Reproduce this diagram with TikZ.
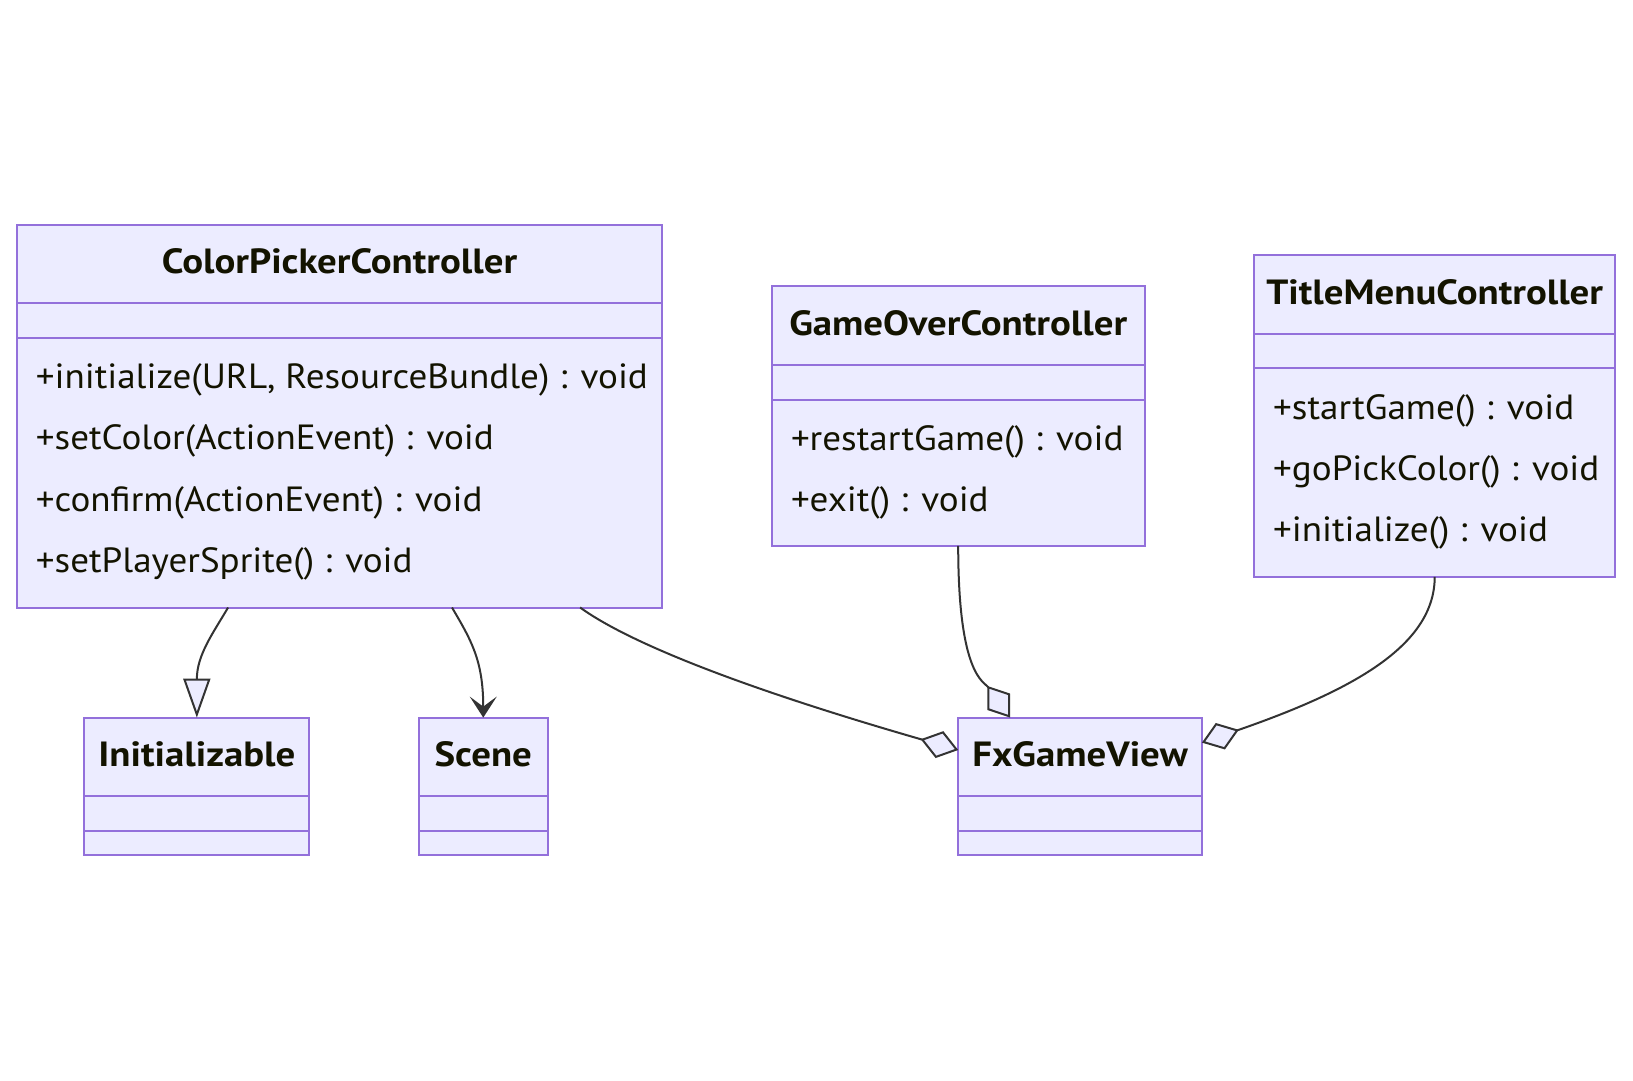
\documentclass[tikz,border=0pt]{standalone}
\usepackage{fontspec}
\setmainfont{PT Sans}
\newfontfamily\methfont{PT Sans}[FakeStretch=1.06]
\newfontfamily\titlefont{PT Sans}[FakeStretch=1.11]
\usetikzlibrary{arrows.meta}
\definecolor{boxfill}{HTML}{ECECFF}
\definecolor{boxline}{HTML}{9370DB}
\definecolor{edgeline}{HTML}{333333}
\definecolor{txt}{HTML}{131300}
\tikzset{
  cls/.style={draw=boxline, fill=boxfill, line width=2pt, inner sep=0pt, outer sep=0pt, anchor=north west, rectangle},
  divider/.style={draw=boxline, line width=2pt},
  ctitle/.style={text=txt, font=\titlefont\fontsize{35}{42}\selectfont\bfseries, inner sep=0pt, anchor=base},
  meth/.style={text=txt, font=\methfont\fontsize{35}{42}\selectfont, inner sep=0pt, anchor=base west},
  edge/.style={draw=edgeline, line width=2pt},
  gen/.style={edge, -{Triangle[length=39pt,width=27pt,fill=boxfill]}},
  assoc/.style={edge, -{Stealth[length=21pt,width=27pt,inset=10pt]}},
  agg/.style={edge, -{Diamond[length=39pt,width=28pt,fill=boxfill]}},
}
\begin{document}
\begin{tikzpicture}[x=1pt,y=-1pt]
\useasboundingbox (0,0) rectangle (1633,1080);
% ColorPickerController
\node[cls, minimum width=645.7pt, minimum height=383pt] (cpc) at (16.7,224.5) {};
\draw[divider] ([yshift=-78.8pt]cpc.north west) -- ([yshift=-78.8pt]cpc.north east);
\draw[divider] ([yshift=-113.2pt]cpc.north west) -- ([yshift=-113.2pt]cpc.north east);
\node[ctitle] (cpct) at ([yshift=-48.8pt]cpc.north) {ColorPickerController};
\node[meth] (cpc1) at ([xshift=19pt,yshift=-163.8pt]cpc.north west) {+initialize(URL, ResourceBundle) : void};
\node[meth] (cpc2) at ([xshift=19pt,yshift=-225.2pt]cpc.north west) {+setColor(ActionEvent) : void};
\node[meth] (cpc3) at ([xshift=19pt,yshift=-286.7pt]cpc.north west) {+confirm(ActionEvent) : void};
\node[meth] (cpc4) at ([xshift=19pt,yshift=-348.1pt]cpc.north west) {+setPlayerSprite() : void};
% GameOverController
\node[cls, minimum width=372.8pt, minimum height=259.5pt] (goc) at (771.8,286.4) {};
\draw[divider] ([yshift=-78.8pt]goc.north west) -- ([yshift=-78.8pt]goc.north east);
\draw[divider] ([yshift=-113.2pt]goc.north west) -- ([yshift=-113.2pt]goc.north east);
\node[ctitle] (goct) at ([yshift=-48.8pt]goc.north) {GameOverController};
\node[meth] (goc1) at ([xshift=19pt,yshift=-163.8pt]goc.north west) {+restartGame() : void};
\node[meth] (goc2) at ([xshift=19pt,yshift=-225.2pt]goc.north west) {+exit() : void};
% TitleMenuController
\node[cls, minimum width=361.4pt, minimum height=321.6pt] (tmc) at (1254,255.2) {};
\draw[divider] ([yshift=-78.8pt]tmc.north west) -- ([yshift=-78.8pt]tmc.north east);
\draw[divider] ([yshift=-113.2pt]tmc.north west) -- ([yshift=-113.2pt]tmc.north east);
\node[ctitle] (tmct) at ([yshift=-48.8pt]tmc.north) {TitleMenuController};
\node[meth] (tmc1) at ([xshift=19pt,yshift=-163.8pt]tmc.north west) {+startGame() : void};
\node[meth] (tmc2) at ([xshift=19pt,yshift=-225.2pt]tmc.north west) {+goPickColor() : void};
\node[meth] (tmc3) at ([xshift=19pt,yshift=-286.7pt]tmc.north west) {+initialize() : void};
% Initializable
\node[cls, minimum width=224.9pt, minimum height=137.4pt] (ini) at (84.4,717.6) {};
\draw[divider] ([yshift=-78.8pt]ini.north west) -- ([yshift=-78.8pt]ini.north east);
\draw[divider] ([yshift=-113.2pt]ini.north west) -- ([yshift=-113.2pt]ini.north east);
\node[ctitle] (init) at ([yshift=-48.8pt]ini.north) {Initializable};
% Scene
\node[cls, minimum width=129.1pt, minimum height=137.4pt] (scn) at (418.7,717.6) {};
\draw[divider] ([yshift=-78.8pt]scn.north west) -- ([yshift=-78.8pt]scn.north east);
\draw[divider] ([yshift=-113.2pt]scn.north west) -- ([yshift=-113.2pt]scn.north east);
\node[ctitle] (scnt) at ([yshift=-48.8pt]scn.north) {Scene};
% FxGameView
\node[cls, minimum width=243.7pt, minimum height=137.4pt] (fx) at (958.2,717.6) {};
\draw[divider] ([yshift=-78.8pt]fx.north west) -- ([yshift=-78.8pt]fx.north east);
\draw[divider] ([yshift=-113.2pt]fx.north west) -- ([yshift=-113.2pt]fx.north east);
\node[ctitle] (fxt) at ([yshift=-48.8pt]fx.north) {FxGameView};
% connector end points
\coordinate (e1s) at ([xshift=211.4pt]cpc.south west);
\coordinate (e2s) at ([xshift=435.3pt]cpc.south west);
\coordinate (e3s) at ([xshift=563.4pt]cpc.south west);
\coordinate (e3e) at ([yshift=-32.4pt]fx.north west);
\coordinate (e4e) at ([xshift=52pt]fx.north west);
\coordinate (e5e) at ([yshift=-25pt]fx.north east);
% connectors
\draw[gen] (e1s) .. controls +(-15,25.5) and +(0,-62.6) .. (ini.north);
\draw[assoc] (e2s) .. controls +(19,32.5) and +(0,-57.6) .. (scn.north);
\draw[agg] (e3s) .. controls +(45,32.5) and +(-229,-66) .. (e3e);
\draw[agg] (goc.south) .. controls +(0,130) and +(-26,-36) .. (e4e);
\draw[agg] (tmc.south) .. controls +(0,69) and +(150,-52) .. (e5e);
\end{tikzpicture}
\end{document}
